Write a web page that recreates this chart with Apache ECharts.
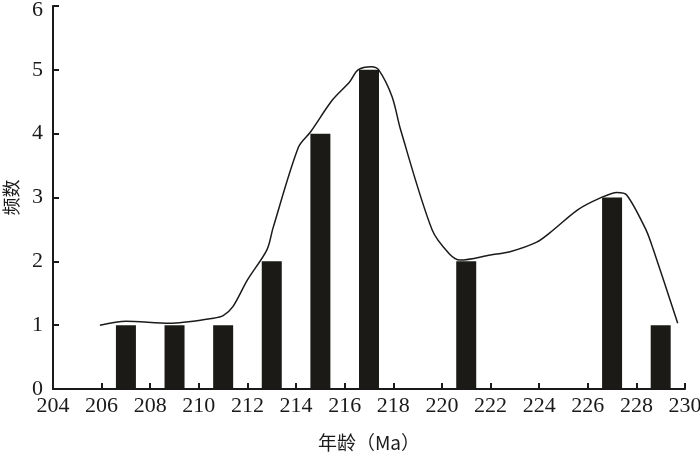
<!DOCTYPE html>
<html>
<head>
<meta charset="utf-8">
<script src="https://cdn.jsdelivr.net/npm/echarts@6/dist/echarts.min.js"></script>
<style>html,body{margin:0;padding:0;background:#fff;}#c{width:700px;height:453px;}</style>
</head>
<body>
<div id="c"></div>
<script>
var ages = [207, 209, 211, 213, 215, 217, 221, 227, 229];
var counts = [1, 1, 1, 2, 4, 5, 2, 3, 1];
var curveX = [205.93, 207.0, 208.8, 210.6, 211.0, 211.4, 212.0, 212.8, 213.05, 214.1, 214.6, 215.5, 216.2, 216.55, 217.1, 217.4, 217.95, 218.3, 219.6, 220.3, 220.75, 222.0, 222.8, 223.9, 224.45, 225.6, 226.5, 227.2, 227.6, 228.4, 228.7, 229.7];
var curveY = [1.0, 1.06, 1.03, 1.11, 1.15, 1.29, 1.71, 2.18, 2.52, 3.79, 4.03, 4.53, 4.81, 5.0, 5.05, 5.0, 4.58, 4.06, 2.49, 2.12, 2.02, 2.1, 2.15, 2.3, 2.45, 2.81, 2.99, 3.08, 3.04, 2.49, 2.18, 1.03];
var xTicks = [204, 230, 2];
var yTicks = [0, 6, 1];

var barData = ages.map(function (a, i) { return [a, counts[i]]; });
var lineData = curveX.map(function (x, i) { return [x, curveY[i]]; });

var chart = echarts.init(document.getElementById('c'), null, {renderer: 'canvas'});
var serif = '"Liberation Serif", "Times New Roman", serif';
var cjk = '"Noto Sans CJK SC", sans-serif';
chart.setOption({
  animation: false,
  backgroundColor: '#ffffff',
  grid: {left: 53, right: 15, top: 6, bottom: 64, containLabel: false, outerBoundsMode: 'none'},
  xAxis: {
    type: 'value', min: xTicks[0], max: xTicks[1], interval: xTicks[2],
    name: '年龄（Ma）', nameLocation: 'middle', nameGap: 44,
    nameTextStyle: {fontFamily: cjk, fontSize: 19, color: '#1a1a1a'},
    axisLine: {lineStyle: {color: '#1a1a1a', width: 2}},
    axisTick: {inside: true, length: 6, lineStyle: {color: '#1a1a1a', width: 2}},
    axisLabel: {fontFamily: serif, fontSize: 22, color: '#1a1a1a', margin: 6},
    splitLine: {show: false}
  },
  yAxis: {
    type: 'value', min: yTicks[0], max: yTicks[1], interval: yTicks[2],
    name: '频数', nameLocation: 'middle', nameGap: 33, nameRotate: 90,
    nameTextStyle: {fontFamily: cjk, fontSize: 18, color: '#1a1a1a'},
    axisLine: {show: true, lineStyle: {color: '#1a1a1a', width: 2}},
    axisTick: {show: true, inside: true, length: 6, lineStyle: {color: '#1a1a1a', width: 2}},
    axisLabel: {
      fontFamily: serif, fontSize: 22, color: '#1a1a1a', margin: 10,
      formatter: function (v) { return v === yTicks[1] ? '{top|' + v + '}' : String(v); },
      rich: {top: {fontFamily: serif, fontSize: 22, color: '#1a1a1a', padding: [8, 0, 0, 0]}}
    },
    splitLine: {show: false}
  },
  series: [
    {type: 'bar', data: barData, barWidth: 20, itemStyle: {color: '#1c1a17'}, z: 2},
    {type: 'line', data: lineData, smooth: 0.3, showSymbol: false, symbol: 'none',
     lineStyle: {color: '#1a1a1a', width: 1.5}, z: 3}
  ]
});
</script>
</body>
</html>
